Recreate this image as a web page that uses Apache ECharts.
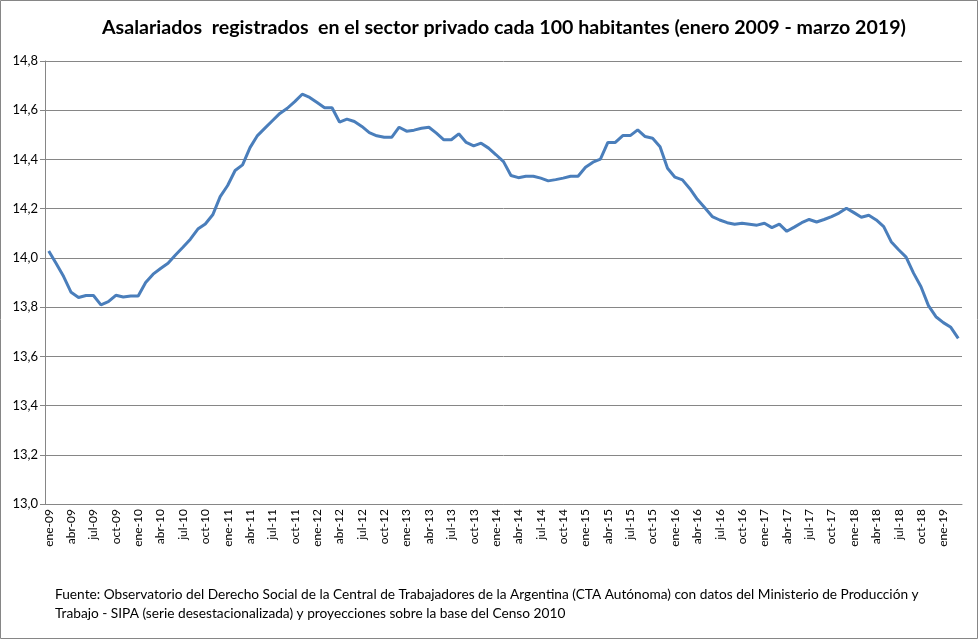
<!DOCTYPE html>
<html>
<head>
<meta charset="utf-8">
<script src="https://cdn.jsdelivr.net/npm/echarts@6/dist/echarts.min.js"></script>
<style>
  html, body { margin: 0; padding: 0; background: #fff; }
  #box { width: 978px; height: 639px; }
</style>
</head>
<body>
<div id="box"></div>
<script>
// etiquetas de meses
var meses = ['ene', 'feb', 'mar', 'abr', 'may', 'jun', 'jul', 'ago', 'sep', 'oct', 'nov', 'dic'];
var anios = ['09', '10', '11', '12', '13', '14', '15', '16', '17', '18', '19'];

// asalariados cada 100 habitantes, por año
var v2009 = [14.028, 13.977, 13.924, 13.860, 13.839, 13.847, 13.847, 13.809, 13.822, 13.848, 13.841, 13.845];
var v2010 = [13.845, 13.900, 13.934, 13.957, 13.978, 14.012, 14.043, 14.076, 14.117, 14.138, 14.175, 14.249];
var v2011 = [14.294, 14.355, 14.378, 14.448, 14.497, 14.527, 14.557, 14.587, 14.608, 14.635, 14.665, 14.652];
var v2012 = [14.631, 14.610, 14.610, 14.552, 14.564, 14.554, 14.534, 14.509, 14.496, 14.490, 14.490, 14.531];
var v2013 = [14.515, 14.519, 14.527, 14.531, 14.507, 14.480, 14.480, 14.504, 14.469, 14.455, 14.466, 14.446];
var v2014 = [14.419, 14.391, 14.335, 14.326, 14.332, 14.332, 14.324, 14.313, 14.318, 14.324, 14.332, 14.332];
var v2015 = [14.368, 14.389, 14.401, 14.469, 14.469, 14.497, 14.497, 14.520, 14.493, 14.486, 14.452, 14.364];
var v2016 = [14.328, 14.317, 14.281, 14.238, 14.204, 14.168, 14.154, 14.143, 14.137, 14.141, 14.137, 14.133];
var v2017 = [14.141, 14.123, 14.137, 14.108, 14.125, 14.143, 14.156, 14.146, 14.156, 14.168, 14.182, 14.202];
var v2018 = [14.184, 14.165, 14.173, 14.154, 14.127, 14.066, 14.033, 14.003, 13.938, 13.883, 13.806, 13.761];
var v2019 = [13.737, 13.718, 13.673];

var valores = [].concat(v2009, v2010, v2011, v2012, v2013, v2014, v2015, v2016, v2017, v2018, v2019);

var categorias = [];
for (var a = 0; a < anios.length; a++) {
  for (var m = 0; m < 12; m++) {
    if (categorias.length < valores.length) categorias.push(meses[m] + '-' + anios[a]);
  }
}

var titulo = 'Asalariados  registrados  en el sector privado cada 100 habitantes (enero 2009 - marzo 2019)';
var fuente = 'Fuente: Observatorio del Derecho Social de la Central de Trabajadores de la Argentina (CTA Autónoma) con datos del Ministerio de Producción y\nTrabajo - SIPA (serie desestacionalizada) y proyecciones sobre la base del Censo 2010';

var myChart = echarts.init(document.getElementById('box'));

option = {
  animation: false,
  title: [{
    text: titulo,
    left: 97,
    top: 13,
    textStyle: { fontFamily: 'Lato', fontWeight: 'bold', fontSize: 19.6, color: '#000' }
  }, {
    text: fuente,
    left: 50,
    top: 580,
    textStyle: { fontFamily: 'Lato', fontWeight: 'normal', fontSize: 13.7, color: '#000', lineHeight: 19 }
  }],
  graphic: [{
    type: 'rect',
    shape: { x: 0.5, y: 0.5, width: 977, height: 638 },
    style: { fill: 'none', stroke: '#868686', lineWidth: 1 },
    silent: true
  }],
  grid: {
    left: 45,
    right: 16,
    top: 61,
    bottom: 135
  },
  xAxis: {
    type: 'category',
    data: categorias,
    boundaryGap: true,
    axisLine: { show: true, lineStyle: { color: '#868686' } },
    axisTick: { show: false },
    axisLabel: {
      interval: 2,
      rotate: 90,
      fontFamily: 'Lato',
      fontSize: 12,
      color: '#000',
      margin: 5
    }
  },
  yAxis: {
    type: 'value',
    min: 13,
    max: 14.8,
    interval: 0.2,
    axisLine: { show: true, lineStyle: { color: '#868686' } },
    axisTick: { show: true, length: 5, lineStyle: { color: '#868686' } },
    splitLine: { lineStyle: { color: '#868686', width: 1 } },
    axisLabel: {
      fontFamily: 'Lato',
      fontSize: 13,
      color: '#000',
      margin: 7,
      formatter: function (v) { return v.toFixed(1).replace('.', ','); }
    }
  },
  series: [{
    name: 'Asalariados',
    type: 'line',
    data: valores,
    symbol: 'none',
    smooth: false,
    lineStyle: { color: '#4A7EBB', width: 3 }
  }]
};
myChart.setOption(option);
</script>
</body>
</html>
